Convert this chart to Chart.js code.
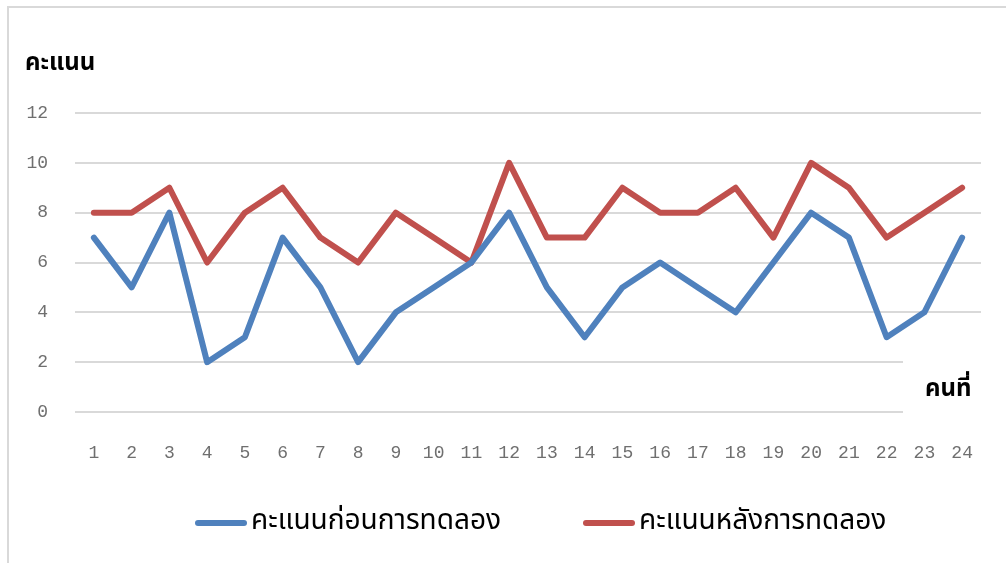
<!DOCTYPE html>
<html>
<head>
<meta charset="utf-8">
<script src="https://cdn.jsdelivr.net/npm/chart.js@4/dist/chart.umd.min.js"></script>
<style>
  html, body { margin: 0; padding: 0; background: #fff; }
  #wrap { position: relative; width: 1006px; height: 563px; overflow: hidden; }
  #frame { position: absolute; left: 7px; top: 6px; width: 1100px; height: 700px; border: 2px solid #d9d9d9; box-sizing: border-box; }
  #chart { position: absolute; left: 0; top: 0; }
</style>
</head>
<body>
<div id="wrap">
  <div id="frame"></div>
  <canvas id="chart" width="1006" height="563"></canvas>
</div>
<script>
// participants 1..24
var people = ['1','2','3','4','5','6','7','8','9','10','11','12','13','14','15','16','17','18','19','20','21','22','23','24'];
var scoreBefore = [7, 5, 8, 2, 3, 7, 5, 2, 4, 5, 6, 8, 5, 3, 5, 6, 5, 4, 6, 8, 7, 3, 4, 7];
var scoreAfter  = [8, 8, 9, 6, 8, 9, 7, 6, 8, 7, 6, 10, 7, 7, 9, 8, 8, 9, 7, 10, 9, 7, 8, 9];
var seriesNames = ['คะแนนก่อนการทดลอง', 'คะแนนหลังการทดลอง'];
var seriesColors = ['#4f81bd', '#c0504d'];
var yTitle = 'คะแนน';
var xTitle = 'คนที่';

var thaiFont = '"Noto Sans Thai", "Noto Sans", "DejaVu Sans", sans-serif';
var tickFont = '"Liberation Mono", "DejaVu Sans Mono", monospace';

// axis captions drawn horizontally; the x caption sits on a white patch over the low gridlines
var axisCaptions = {
    id: 'axisCaptions',
    beforeDatasetsDraw: function(chart) {
        var ctx = chart.ctx;
        var area = chart.chartArea;
        ctx.save();
        ctx.fillStyle = '#ffffff';
        ctx.fillRect(903, area.bottom - 70, area.right - 903 + 10, 80);
        ctx.restore();
    },
    afterDraw: function(chart) {
        var ctx = chart.ctx;
        ctx.save();
        ctx.fillStyle = '#000000';
        ctx.font = 'bold 24px ' + thaiFont;
        ctx.textBaseline = 'alphabetic';
        ctx.textAlign = 'left';
        ctx.fillText(yTitle, 25, 70);
        ctx.fillText(xTitle, 925, 396);
        ctx.restore();
    }
};

// legend: a short thick line per series followed by its name
var lineLegend = {
    id: 'lineLegend',
    afterDraw: function(chart) {
        var ctx = chart.ctx;
        var starts = [195, 583];
        var y = 523;
        ctx.save();
        ctx.font = '28px ' + thaiFont;
        ctx.textBaseline = 'middle';
        ctx.textAlign = 'left';
        chart.data.datasets.forEach(function(ds, i) {
            var x = starts[i];
            ctx.strokeStyle = ds.borderColor;
            ctx.lineWidth = 6;
            ctx.lineCap = 'round';
            ctx.beginPath();
            ctx.moveTo(x + 3, y);
            ctx.lineTo(x + 49, y);
            ctx.stroke();
            ctx.fillStyle = '#000000';
            ctx.fillText(ds.label, x + 56, y);
        });
        ctx.restore();
    }
};

new Chart(document.getElementById('chart').getContext('2d'), {
    type: 'line',
    data: {
        labels: people,
        datasets: [{
            label: seriesNames[0],
            data: scoreBefore,
            borderColor: seriesColors[0],
            backgroundColor: seriesColors[0],
            borderWidth: 6,
            borderJoinStyle: 'round',
            borderCapStyle: 'round',
            pointRadius: 0,
            tension: 0
        }, {
            label: seriesNames[1],
            data: scoreAfter,
            borderColor: seriesColors[1],
            backgroundColor: seriesColors[1],
            borderWidth: 6,
            borderJoinStyle: 'round',
            borderCapStyle: 'round',
            pointRadius: 0,
            tension: 0
        }]
    },
    options: {
        responsive: false,
        animation: false,
        layout: {
            padding: { left: 0, top: 113, right: 25, bottom: 63 }
        },
        scales: {
            x: {
                offset: true,
                grid: { display: false, drawTicks: false },
                border: { display: false },
                ticks: {
                    color: '#6f6f6f',
                    font: { family: tickFont, size: 18 },
                    padding: 30,
                    maxRotation: 0,
                    autoSkip: false
                },
                afterFit: function(scale) { scale.height = 88; }
            },
            y: {
                min: 0,
                max: 12,
                grid: { color: '#d9d9d9', lineWidth: 2, drawTicks: false },
                border: { display: false },
                ticks: {
                    stepSize: 2,
                    color: '#6f6f6f',
                    font: { family: tickFont, size: 18 },
                    padding: 27
                },
                afterFit: function(scale) { scale.width = 75; }
            }
        },
        plugins: {
            legend: { display: false },
            tooltip: { enabled: false }
        }
    },
    plugins: [axisCaptions, lineLegend]
});
</script>
</body>
</html>
